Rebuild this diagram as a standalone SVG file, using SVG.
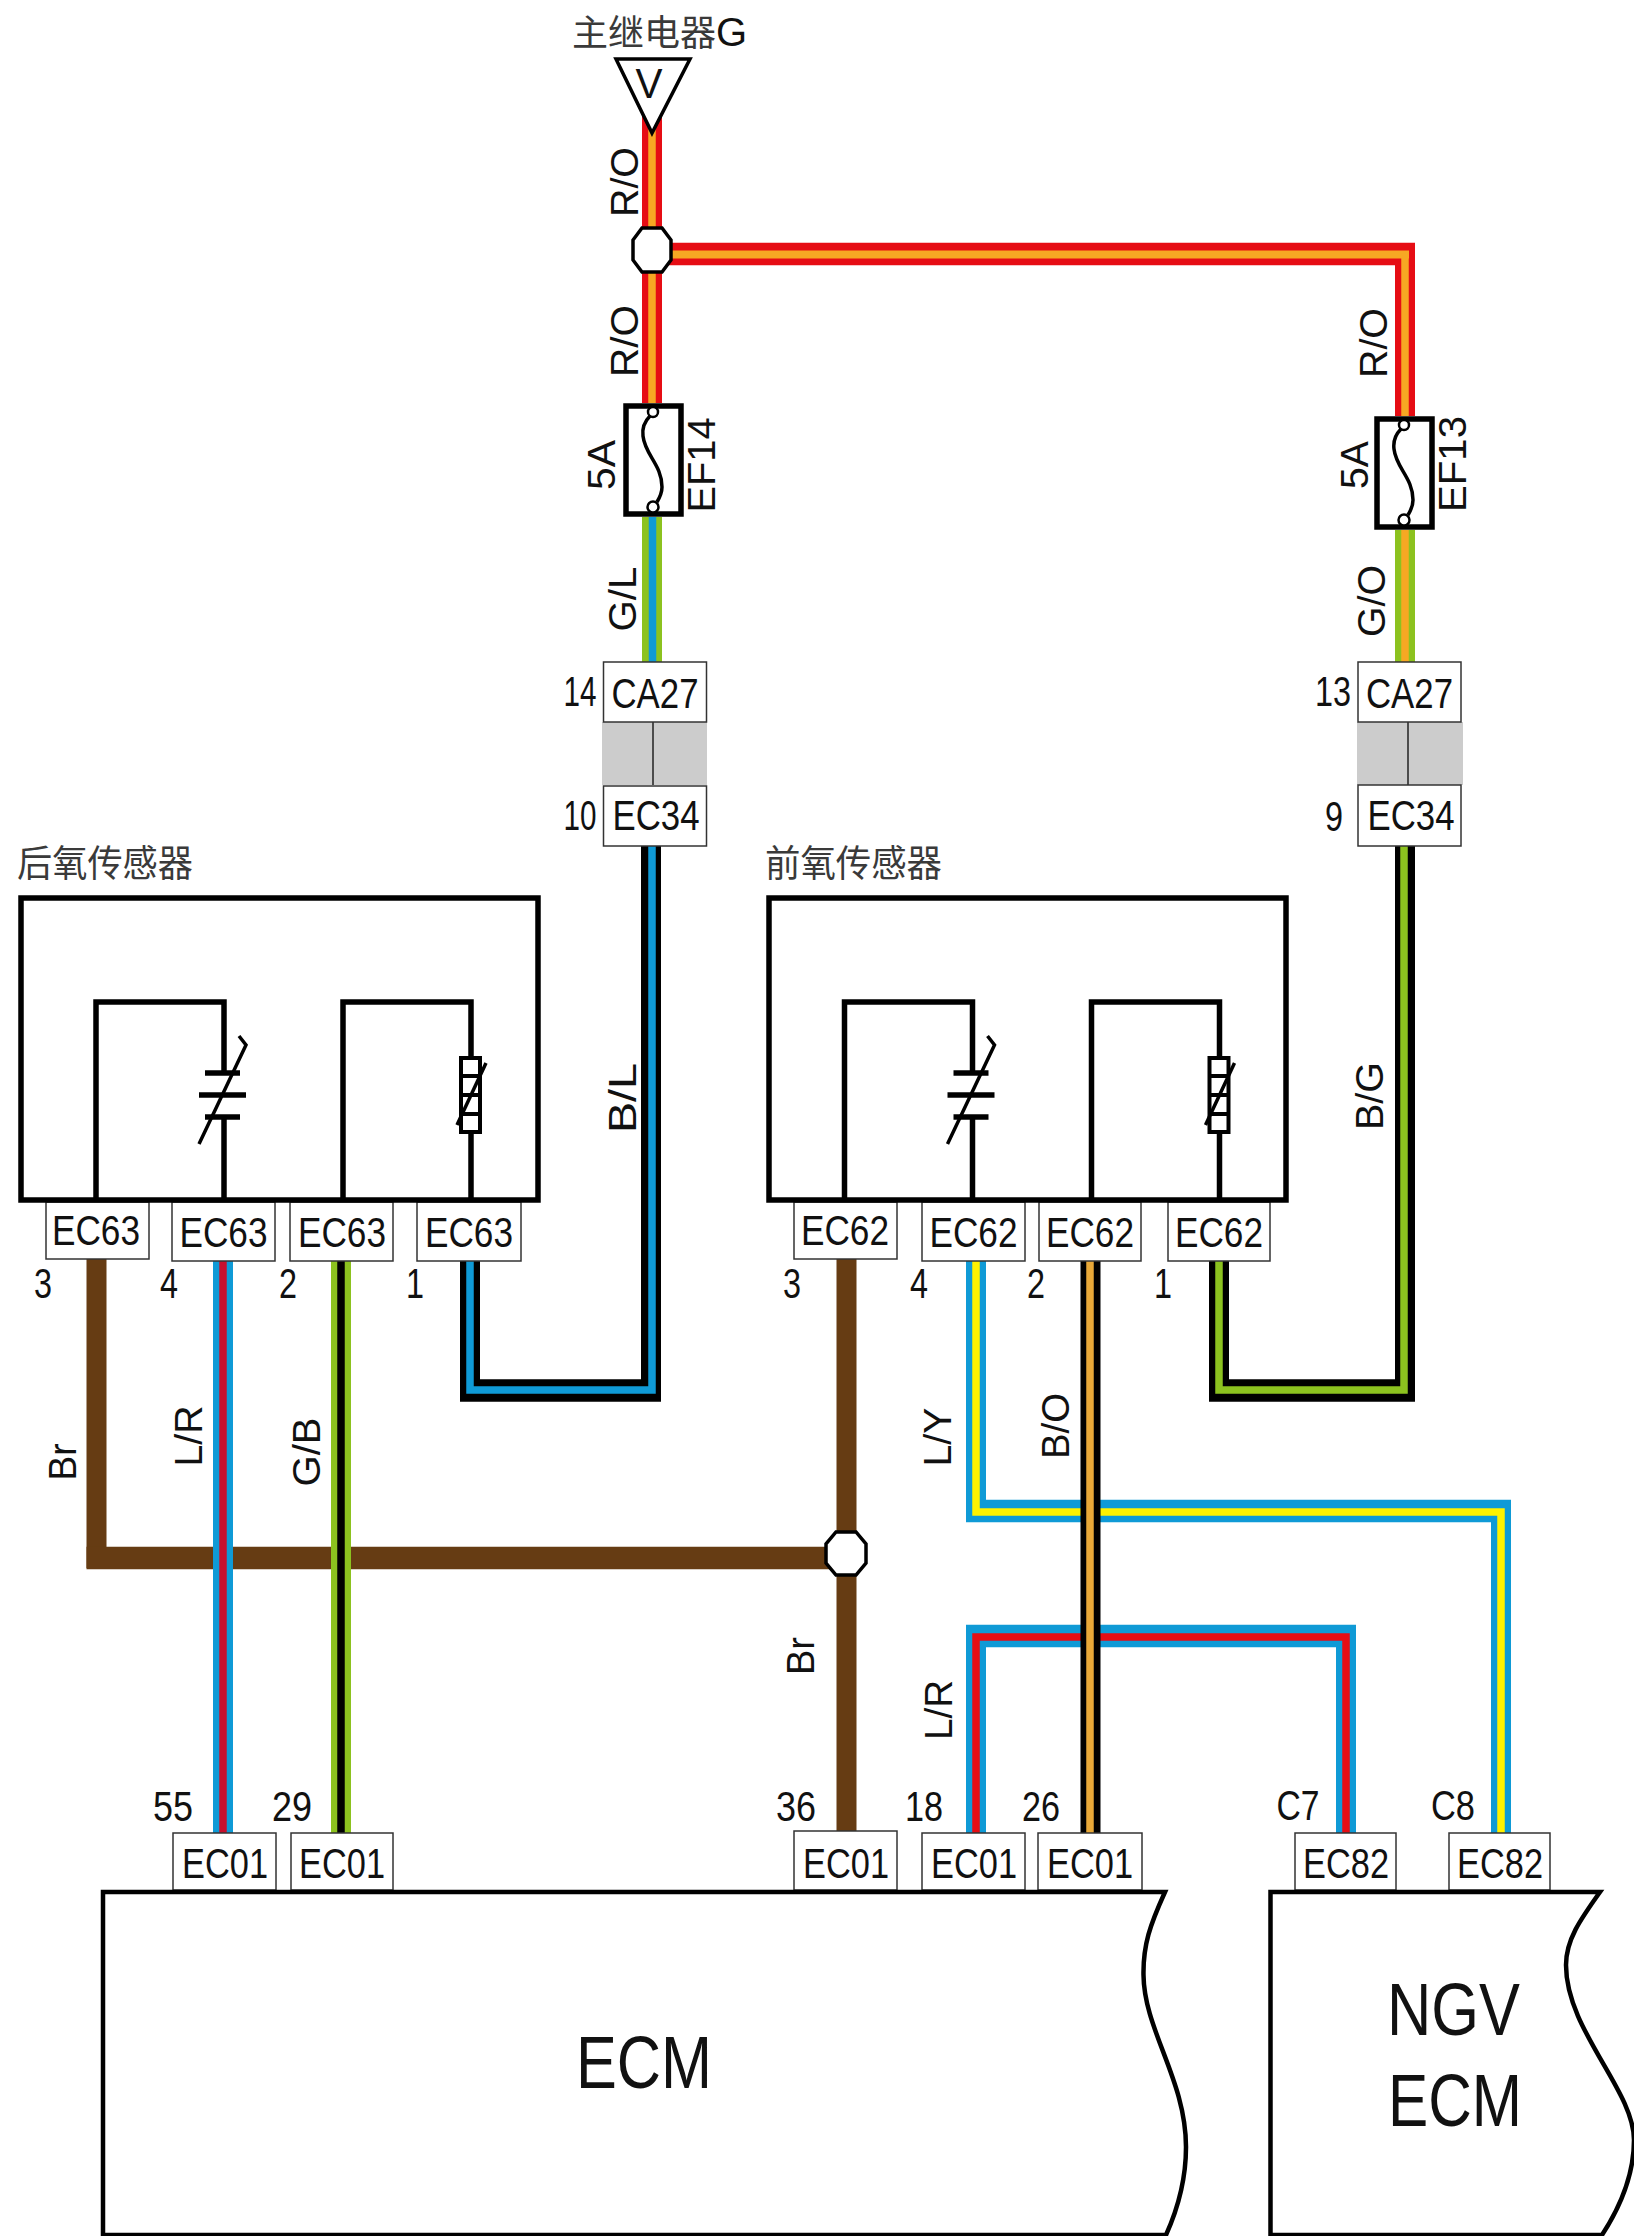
<svg xmlns="http://www.w3.org/2000/svg" xmlns:xlink="http://www.w3.org/1999/xlink" width="1634" height="2236" viewBox="0 0 1634 2236">
<style>
text{font-family:"Liberation Sans","Noto Sans CJK SC",sans-serif;fill:#111;font-size:42px;text-anchor:middle}
#wire-labels text,.rot{font-size:38px}
.cn{font-family:"Noto Sans CJK SC","Liberation Sans",sans-serif;font-size:35px;fill:#3a3a3a;text-anchor:start}
.big{font-size:74px}
.w{fill:none;stroke-linejoin:miter;stroke-linecap:butt;stroke-width:20}
.i{fill:none;stroke-linejoin:miter;stroke-linecap:butt;stroke-width:7.5}
.wh{stroke-width:22.5;fill:none}
.ih{stroke-width:8;fill:none}
.red{stroke:#e60d14}.crm{stroke:#c8102e}.ora{stroke:#f7a823}.blu{stroke:#0f9ad6}.grn{stroke:#8cc21f}.blk{stroke:#000}.yel{stroke:#fff200}.bro{stroke:#663c13}.gol{stroke:#e8a838}
.box{fill:#fff;stroke:#333;stroke-width:1.5}
.sb{fill:#fff;stroke:#000;stroke-width:5.5}
.ln{fill:none;stroke:#000;stroke-width:5.5}
.th{fill:none;stroke:#000;stroke-width:3.5}
.jn{fill:#fff;stroke:#000;stroke-width:3.5}
.mod{fill:#fff;stroke:#000;stroke-width:4.5}
.gray{fill:#ccc}
.div{stroke:#222;stroke-width:1.5}
</style>
<defs>
<g id="sensor-core">
<polyline class="ln" points="96,1200 96,1002 224,1002 224,1073"/>
<line class="ln" x1="224" y1="1117" x2="224" y2="1200"/>
<line class="ln" x1="205" y1="1073" x2="240" y2="1073"/>
<line class="ln" x1="199" y1="1095" x2="246" y2="1095"/>
<line class="ln" x1="205" y1="1117" x2="240" y2="1117"/>
<polyline class="th" points="199,1144 246,1045 239,1036"/>
<polyline class="ln" points="343,1200 343,1002 471,1002 471,1056"/>
<line class="ln" x1="471" y1="1134" x2="471" y2="1200"/>
<rect x="461" y="1058" width="19" height="74" fill="#fff" stroke="#000" stroke-width="4"/>
<path d="M461 1076H480M461 1095H480M461 1114H480" stroke="#000" stroke-width="4" fill="none"/>
<line class="th" x1="486" y1="1063" x2="457" y2="1125"/>
</g>
<g id="fuse-core">
<rect class="sb" x="626" y="406" width="55" height="108"/>
<path class="th" d="M650 416C644 422 642 428 643 436C645 455 662 465 662 487C662 493 660 497 657 502"/>
<circle cx="653" cy="412" r="5" fill="#fff" stroke="#000" stroke-width="2.5"/>
<circle cx="653" cy="507" r="5.500" fill="#fff" stroke="#000" stroke-width="2.5"/>
</g>
</defs>
<rect width="1634" height="2236" fill="#fff"/>

<g id="connectors">
<polyline class="w red" points="652,110 652,403"/><polyline class="i ora" points="652,110 652,403"/>
<polyline class="w red" points="652,254 1405,254 1405,416"/><line class="wh red" x1="652" y1="254" x2="1415" y2="254"/><polyline class="i ora" points="1405,254 1405,416"/><line class="ih ora" x1="652" y1="254.500" x2="1409" y2="254.500"/>
<polyline class="w grn" points="652,517 652,662"/><polyline class="i blu" points="652.5,517 652.5,662"/>
<polyline class="w grn" points="1405,530 1405,662"/><polyline class="i ora" points="1405,530 1405,662"/>
<polyline class="w blk" points="651,846 651,1390 470,1390 470,1261"/><line class="wh blk" x1="460" y1="1390.500" x2="661" y2="1390.500"/><polyline class="i blu" points="652,846 652,1390 470,1390 470,1261"/>
<polyline class="w blk" points="1405,846 1405,1390 1219,1390 1219,1261"/><line class="wh blk" x1="1209" y1="1390.500" x2="1415" y2="1390.500"/><polyline class="i grn" points="1404,846 1404,1390 1219,1390 1219,1261"/>
<polyline class="w bro" points="96.5,1259 96.5,1558 846.5,1558"/><line class="wh bro" x1="86.500" y1="1558" x2="846.5" y2="1558"/>
<polyline class="w bro" points="846.5,1259 846.5,1831"/>
<polyline class="w blu" points="223,1261 223,1833"/><polyline class="i crm" points="223,1261 223,1833"/>
<polyline class="w grn" points="341,1261 341,1833"/><polyline class="i blk" points="341,1261 341,1833"/>
<polyline class="w blu" points="976,1261 976,1511 1501,1511 1501,1833"/><line class="wh blu" x1="966" y1="1511" x2="1511" y2="1511"/><polyline class="i yel" points="976,1261 976,1512 1501,1512 1501,1833"/>
<polyline class="w blu" points="976,1833 976,1636 1346,1636 1346,1833"/><line class="wh blu" x1="966" y1="1636" x2="1356" y2="1636"/><polyline class="i red" points="976,1833 976,1637 1346,1637 1346,1833"/>
<polyline class="w blk" points="1090.5,1261 1090.5,1833"/><polyline class="i gol" points="1090,1261 1090,1833"/>
</g>

<g id="wire-labels">
<text transform="translate(638,182) rotate(-90)" textLength="70" lengthAdjust="spacingAndGlyphs">R/O</text>
<text transform="translate(638,341) rotate(-90)" textLength="72" lengthAdjust="spacingAndGlyphs">R/O</text>
<text transform="translate(636,599) rotate(-90)" textLength="65" lengthAdjust="spacingAndGlyphs">G/L</text>
<text transform="translate(1387,343) rotate(-90)" textLength="70" lengthAdjust="spacingAndGlyphs">R/O</text>
<text transform="translate(1385,601) rotate(-90)" textLength="72" lengthAdjust="spacingAndGlyphs">G/O</text>
<text transform="translate(636,1098) rotate(-90)" textLength="70" lengthAdjust="spacingAndGlyphs">B/L</text>
<text transform="translate(1383,1096) rotate(-90)" textLength="68" lengthAdjust="spacingAndGlyphs">B/G</text>
<text transform="translate(76,1462) rotate(-90)" textLength="37" lengthAdjust="spacingAndGlyphs">Br</text>
<text transform="translate(202,1436) rotate(-90)" textLength="61" lengthAdjust="spacingAndGlyphs">L/R</text>
<text transform="translate(320,1452) rotate(-90)" textLength="69" lengthAdjust="spacingAndGlyphs">G/B</text>
<text transform="translate(951,1437) rotate(-90)" textLength="59" lengthAdjust="spacingAndGlyphs">L/Y</text>
<text transform="translate(1069,1426) rotate(-90)" textLength="66" lengthAdjust="spacingAndGlyphs">B/O</text>
<text transform="translate(814,1656) rotate(-90)" textLength="38" lengthAdjust="spacingAndGlyphs">Br</text>
<text transform="translate(952,1710) rotate(-90)" textLength="60" lengthAdjust="spacingAndGlyphs">L/R</text>
</g>

<g id="relay">
<text class="cn" x="572" y="46" style="font-size:36px">主继电器<tspan font-family="Liberation Sans" fill="#111" font-size="40">G</tspan></text>
<polygon points="616,59 690,59 652,133" fill="#fff" stroke="#000" stroke-width="3.5"/>
<text x="649" y="98" textLength="27" lengthAdjust="spacingAndGlyphs">V</text>
</g>
<g id="junction-top"><polygon class="jn" points="642,228 662,228 671,240 671,260 662,272 642,272 633,260 633,240"/></g>
<g id="junction-bottom"><polygon class="jn" points="836,1532 856,1532 866,1544 866,1563 856,1575 836,1575 826,1563 826,1544"/></g>

<g id="fuse-ef14">
<use xlink:href="#fuse-core" href="#fuse-core"/>
<text class="rot" transform="translate(615,465) rotate(-90)" textLength="50" lengthAdjust="spacingAndGlyphs">5A</text>
<text class="rot" transform="translate(715,465) rotate(-90)" textLength="95" lengthAdjust="spacingAndGlyphs">EF14</text>
</g>
<g id="fuse-ef13">
<use xlink:href="#fuse-core" href="#fuse-core" transform="translate(751,13)"/>
<text class="rot" transform="translate(1368,465) rotate(-90)" textLength="48" lengthAdjust="spacingAndGlyphs">5A</text>
<text class="rot" transform="translate(1466,464) rotate(-90)" textLength="96" lengthAdjust="spacingAndGlyphs">EF13</text>
</g>

<g id="connector-left">
<rect class="gray" x="602" y="722" width="105" height="63"/>
<line class="div" x1="653" y1="722" x2="653" y2="785"/>
<rect class="box" x="603.500" y="662" width="103" height="60"/>
<rect class="box" x="603.500" y="786" width="103" height="60"/>
<text x="655" y="708" textLength="87" lengthAdjust="spacingAndGlyphs">CA27</text>
<text x="656" y="830" textLength="87" lengthAdjust="spacingAndGlyphs">EC34</text>
<text x="580" y="706" textLength="33" lengthAdjust="spacingAndGlyphs">14</text>
<text x="580" y="830" textLength="33" lengthAdjust="spacingAndGlyphs">10</text>
</g>
<g id="connector-right">
<rect class="gray" x="1357" y="722" width="106" height="63"/>
<line class="div" x1="1408" y1="722" x2="1408" y2="785"/>
<rect class="box" x="1358" y="662" width="103" height="60"/>
<rect class="box" x="1358" y="785" width="103" height="61"/>
<text x="1409.500" y="708" textLength="87" lengthAdjust="spacingAndGlyphs">CA27</text>
<text x="1411" y="830" textLength="87" lengthAdjust="spacingAndGlyphs">EC34</text>
<text x="1333" y="706" textLength="36" lengthAdjust="spacingAndGlyphs">13</text>
<text x="1334" y="831" textLength="18" lengthAdjust="spacingAndGlyphs">9</text>
</g>

<g id="rear-sensor-pins">
<rect class="box" x="46" y="1202" width="103" height="57"/>
<rect class="box" x="172" y="1202" width="103" height="59"/>
<rect class="box" x="290" y="1202" width="103" height="59"/>
<rect class="box" x="417" y="1202" width="104" height="59"/>
<text x="96" y="1245" textLength="88" lengthAdjust="spacingAndGlyphs">EC63</text>
<text x="223.500" y="1247" textLength="88" lengthAdjust="spacingAndGlyphs">EC63</text>
<text x="342" y="1247" textLength="88" lengthAdjust="spacingAndGlyphs">EC63</text>
<text x="469" y="1247" textLength="88" lengthAdjust="spacingAndGlyphs">EC63</text>
<text x="43" y="1298" textLength="18" lengthAdjust="spacingAndGlyphs">3</text>
<text x="169" y="1298" textLength="18" lengthAdjust="spacingAndGlyphs">4</text>
<text x="288" y="1298" textLength="18" lengthAdjust="spacingAndGlyphs">2</text>
<text x="415" y="1298" textLength="18" lengthAdjust="spacingAndGlyphs">1</text>
</g>
<g id="rear-sensor">
<text class="cn" x="17" y="877" style="font-size:37px" textLength="176" lengthAdjust="spacingAndGlyphs">后氧传感器</text>
<rect class="sb" x="21" y="898" width="517" height="302"/>
<use xlink:href="#sensor-core" href="#sensor-core"/>
</g>

<g id="front-sensor-pins">
<rect class="box" x="794" y="1202" width="103" height="57"/>
<rect class="box" x="922" y="1202" width="103" height="59"/>
<rect class="box" x="1039" y="1202" width="102" height="59"/>
<rect class="box" x="1168" y="1202" width="102" height="59"/>
<text x="845" y="1245" textLength="88" lengthAdjust="spacingAndGlyphs">EC62</text>
<text x="973.500" y="1247" textLength="88" lengthAdjust="spacingAndGlyphs">EC62</text>
<text x="1090" y="1247" textLength="88" lengthAdjust="spacingAndGlyphs">EC62</text>
<text x="1219" y="1247" textLength="88" lengthAdjust="spacingAndGlyphs">EC62</text>
<text x="792" y="1298" textLength="18" lengthAdjust="spacingAndGlyphs">3</text>
<text x="919" y="1298" textLength="18" lengthAdjust="spacingAndGlyphs">4</text>
<text x="1036" y="1298" textLength="18" lengthAdjust="spacingAndGlyphs">2</text>
<text x="1163" y="1298" textLength="18" lengthAdjust="spacingAndGlyphs">1</text>
</g>
<g id="front-sensor">
<text class="cn" x="765" y="877" style="font-size:37px" textLength="177" lengthAdjust="spacingAndGlyphs">前氧传感器</text>
<rect class="sb" x="769" y="898" width="517" height="302"/>
<use xlink:href="#sensor-core" href="#sensor-core" transform="translate(748.500,0)"/>
</g>

<g id="ecm-pins">
<rect class="box" x="173" y="1833" width="103" height="57"/>
<rect class="box" x="291" y="1833" width="102" height="57"/>
<rect class="box" x="794" y="1831" width="103" height="59"/>
<rect class="box" x="922" y="1833" width="103" height="57"/>
<rect class="box" x="1038" y="1833" width="104" height="57"/>
<rect class="box" x="1295" y="1833" width="101" height="57"/>
<rect class="box" x="1449" y="1833" width="101" height="57"/>
<text x="225" y="1878" textLength="86" lengthAdjust="spacingAndGlyphs">EC01</text>
<text x="342" y="1878" textLength="86" lengthAdjust="spacingAndGlyphs">EC01</text>
<text x="846" y="1878" textLength="86" lengthAdjust="spacingAndGlyphs">EC01</text>
<text x="974" y="1878" textLength="86" lengthAdjust="spacingAndGlyphs">EC01</text>
<text x="1090" y="1878" textLength="86" lengthAdjust="spacingAndGlyphs">EC01</text>
<text x="1346" y="1878" textLength="86" lengthAdjust="spacingAndGlyphs">EC82</text>
<text x="1500" y="1878" textLength="86" lengthAdjust="spacingAndGlyphs">EC82</text>
<text x="173" y="1821" textLength="40" lengthAdjust="spacingAndGlyphs">55</text>
<text x="292" y="1821" textLength="40" lengthAdjust="spacingAndGlyphs">29</text>
<text x="796" y="1821" textLength="40" lengthAdjust="spacingAndGlyphs">36</text>
<text x="924" y="1821" textLength="38" lengthAdjust="spacingAndGlyphs">18</text>
<text x="1041" y="1821" textLength="38" lengthAdjust="spacingAndGlyphs">26</text>
<text x="1298" y="1820" textLength="43" lengthAdjust="spacingAndGlyphs">C7</text>
<text x="1453" y="1820" textLength="44" lengthAdjust="spacingAndGlyphs">C8</text>
</g>
<g id="ecm">
<path class="mod" d="M103 2235V1892H1165C1150 1925 1143 1945 1143.500 1975C1144 2030 1186 2080 1186 2147C1186 2185 1175 2215 1166 2235Z"/>
<text class="big" x="644" y="2088" textLength="136" lengthAdjust="spacingAndGlyphs">ECM</text>
</g>
<g id="ngv-ecm">
<path class="mod" d="M1270.500 2235V1892H1600C1580 1920 1566 1940 1566 1965C1566 2030 1634 2090 1634 2140C1634 2180 1615 2215 1602 2235Z"/>
<text class="big" x="1453.500" y="2035" textLength="133" lengthAdjust="spacingAndGlyphs">NGV</text>
<text class="big" x="1455" y="2126" textLength="134" lengthAdjust="spacingAndGlyphs">ECM</text>
</g>
</svg>
